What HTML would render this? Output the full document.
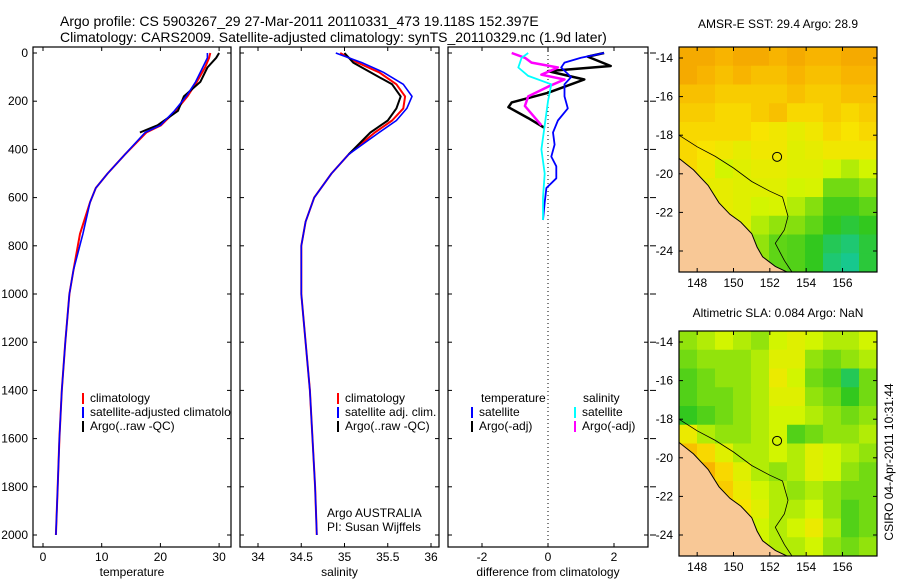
<!DOCTYPE html>
<html><head><meta charset="utf-8"><style>
body{margin:0;background:#fff;}
svg{display:block;font-family:"Liberation Sans",sans-serif;}
</style></head><body>
<svg id="fig" width="900" height="580" viewBox="0 0 900 580">
<text x="60" y="26" font-size="14">Argo profile: CS 5903267_29 27-Mar-2011 20110331_473 19.118S 152.397E</text>
<text x="60" y="42" font-size="14">Climatology: CARS2009. Satellite-adjusted climatology: synTS_20110329.nc (1.9d later)</text>
<text x="778" y="28" font-size="12" text-anchor="middle">AMSR-E SST: 29.4 Argo: 28.9</text>
<text x="778" y="317" font-size="12" text-anchor="middle">Altimetric SLA: 0.084 Argo: NaN</text>
<text transform="translate(893,462) rotate(-90)" font-size="12" text-anchor="middle">CSIRO 04-Apr-2011 10:31:44</text>
</svg>
<script>
// ---- data ----
const pressureTicks=[0,200,400,600,800,1000,1200,1400,1600,1800,2000];
const tempTicks=[0,10,20,30];
const salTicks=[34,34.5,35,35.5,36];
const salTickLabels=["34","34.5","35","35.5","36"];
const diffTicks=[-2,0,2];
const tempClimT=[28.5,28.3,27.6,26.2,24.6,22.6,20.1,17.6,14,11,9,8,6.3,5.2,4.5,3.8,3.2,2.8,2.5,2.2];
const tempClimP=[0,20,60,120,180,240,300,330,420,500,560,620,750,900,1000,1200,1400,1600,1800,2000];
const tempSatT=[28,28,27.2,26,24.4,22.4,20,17.4,14,11,9,8,6.8,5.2,4.5,3.8,3.2,2.8,2.5,2.2];
const tempArgoT=[30,29.5,28,26.8,24,23,19.5,16.5];
const tempArgoP=[0,20,60,120,180,240,300,330];
const salP=[0,40,80,130,180,230,280,330,420,500,600,700,800,1000,1200,1400,1600,1800,2000];
const salClim=[34.95,35.15,35.4,35.6,35.7,35.68,35.55,35.35,35.05,34.85,34.65,34.55,34.5,34.5,34.55,34.6,34.63,34.66,34.68];
const salSat=[34.9,35.2,35.45,35.68,35.78,35.72,35.6,35.4,35.05,34.85,34.65,34.55,34.5,34.5,34.55,34.6,34.63,34.66,34.68];
const salArgo=[35.0,35.1,35.3,35.55,35.65,35.6,35.5,35.3,35.05];
const diffTempSatX=[1.7,1.0,0.5,0.4,0.7,0.5,0.5,0.6,0.3,0.15,0.2,0.1,0.25,0.25,-0.05,-0.1,-0.15];
const diffTempSatP=[0,20,40,60,100,130,180,230,280,330,380,430,470,520,560,620,693];
const diffTempArgoX=[1.7,1.2,1.9,0.0,1.1,0.7,0.0,-1.1,-1.2,-0.6,-0.1];
const diffTempArgoP=[0,15,54,75,110,130,165,205,225,270,311];
const diffSalSatX=[-0.6,-0.8,-0.9,-0.6,0.1,0.0,-0.1,-0.2,-0.1,-0.15,-0.15];
const diffSalSatP=[0,20,60,95,130,200,300,400,500,600,693];
const diffSalArgoX=[-1.1,-0.7,-0.5,0.3,-0.2,0.5,0.0,-0.6,-0.7,-0.2];
const diffSalArgoP=[0,20,40,60,90,110,140,180,220,300];
const latTicks=[-14,-16,-18,-20,-22,-24];
const lonTicks=[148,150,152,154,156];
const sstGrid=[
[.9,.9,.85,.9,.9,.85,.9,.85,.85,.9,.9],
[.9,.85,.8,.85,.8,.8,.85,.8,.8,.85,.85],
[.8,.8,.75,.75,.75,.75,.8,.75,.75,.8,.8],
[.75,.75,.7,.7,.75,.8,.7,.7,.75,.7,.75],
[.7,.7,.7,.7,.65,.62,.58,.62,.7,.65,.7],
[.7,.65,.62,.58,.62,.62,.55,.58,.62,.62,.62],
[.7,.62,.5,.55,.58,.58,.55,.55,.5,.45,.5],
[.62,.58,.58,.55,.55,.55,.5,.52,.35,.35,.4],
[.62,.62,.58,.55,.5,.52,.45,.38,.28,.28,.32],
[.62,.62,.58,.55,.45,.4,.38,.32,.25,.2,.25],
[.62,.62,.58,.55,.4,.32,.3,.25,.15,.1,.2],
[.62,.62,.58,.5,.4,.32,.3,.25,.1,.05,.2]];
const slaGrid=[
[.4,.45,.5,.45,.4,.5,.55,.5,.45,.45,.5],
[.35,.4,.4,.4,.45,.55,.55,.4,.35,.4,.45],
[.3,.35,.4,.4,.45,.6,.5,.35,.3,.15,.35],
[.3,.35,.35,.4,.45,.55,.55,.4,.35,.25,.35],
[.25,.3,.35,.4,.45,.5,.5,.45,.4,.35,.4],
[.6,.45,.4,.4,.45,.5,.3,.35,.4,.4,.45],
[.8,.7,.55,.45,.45,.5,.45,.55,.5,.45,.4],
[.8,.85,.7,.55,.45,.4,.45,.55,.5,.4,.35],
[.8,.85,.75,.6,.5,.45,.4,.45,.4,.35,.35],
[.75,.8,.7,.65,.55,.45,.45,.5,.4,.3,.35],
[.7,.7,.65,.55,.5,.45,.5,.6,.45,.3,.35],
[.7,.65,.6,.55,.5,.45,.45,.5,.4,.35,.4]];
const coastLon=[147,147.8,148.6,149.2,149.8,150.4,151.0,151.3,151.6,152.3,153.2,147];
const coastLat=[-19.2,-19.8,-20.6,-21.5,-22.1,-22.5,-23.1,-23.8,-24.3,-24.8,-25.2,-25.2];
const shelfLon=[147,148,149,150,151,152,152.7,153,152.8,152.3,152.8,153.3];
const shelfLat=[-18,-18.6,-19.1,-19.7,-20.4,-20.9,-21.2,-22.2,-22.9,-23.6,-24.5,-25.2];

// ---- helpers ----
const NS="http://www.w3.org/2000/svg";
const svg=document.getElementById('fig');
function mk(tag,attrs,parent){const e=document.createElementNS(NS,tag);for(const k in attrs)e.setAttribute(k,attrs[k]);(parent||svg).appendChild(e);return e;}
const yP=p=>53+p*0.241;
const panels=[
 {x0:33,x1:231,sx:v=>43+v*5.87,ticks:tempTicks,labels:tempTicks.map(String),xl:"temperature",name:"temperature-panel"},
 {x0:240,x1:439,sx:v=>258+(v-34)*86.5,ticks:salTicks,labels:salTickLabels,xl:"salinity",name:"salinity-panel"},
 {x0:448,x1:648,sx:v=>548+v*33,ticks:diffTicks,labels:diffTicks.map(String),xl:"difference from climatology",name:"difference-panel"}];
const yTop=47,yBot=547;
panels.forEach((pn,i)=>{
 const g=mk('g',{});
 
 
 const fr=mk('rect',{x:pn.x0,y:yTop,width:pn.x1-pn.x0,height:yBot-yTop,fill:'#fff',stroke:'#000','stroke-width':1.2},g);
 
 
 pressureTicks.forEach(p=>{
  const y=yP(p);
  mk('line',{x1:pn.x0,x2:pn.x0+4,y1:y,y2:y,stroke:'#000'},g);
  mk('line',{x1:pn.x1,x2:pn.x1-4,y1:y,y2:y,stroke:'#000'},g);
  if(i===2) mk('line',{x1:pn.x1+2,x2:pn.x1+8,y1:y,y2:y,stroke:'#000'},g);
  if(i===0){const t=mk('text',{x:28,y:y+4,'font-size':12,'text-anchor':'end'},g);t.textContent=p;
   }
 });
 pn.ticks.forEach((v,j)=>{
  const x=pn.sx(v);
  mk('line',{x1:x,x2:x,y1:yTop,y2:yTop+4,stroke:'#000'},g);
  mk('line',{x1:x,x2:x,y1:yBot,y2:yBot-4,stroke:'#000'},g);
  const t=mk('text',{x:x,y:561,'font-size':12,'text-anchor':'middle'},g);t.textContent=pn.labels[j];
  
 });
 const xl=mk('text',{x:(pn.x0+pn.x1)/2,y:576,'font-size':12,'text-anchor':'middle'},g);xl.textContent=pn.xl;
 
 pn.g=g;
});
function line(pn,xs,ps,color,w,name){
 const pts=xs.map((v,k)=>pn.sx(v).toFixed(1)+','+yP(ps[k]).toFixed(1)).join(' ');
 const e=mk('polyline',{points:pts,fill:'none',stroke:color,'stroke-width':w,'stroke-linejoin':'round'},pn.g);
 
 
}
const [P1,P2,P3]=panels;
line(P1,tempClimT,tempClimP,'#ff0000',2,'temperature-climatology-line');
line(P1,tempArgoT,tempArgoP,'#000',2,'temperature-argo-line');
line(P1,tempSatT,tempClimP,'#0000ff',1.6,'temperature-satellite-line');
line(P2,salClim,salP,'#ff0000',2,'salinity-climatology-line');
line(P2,salArgo,salP.slice(0,salArgo.length),'#000',2,'salinity-argo-line');
line(P2,salSat,salP,'#0000ff',1.6,'salinity-satellite-line');
const zl=mk('line',{x1:P3.sx(0),x2:P3.sx(0),y1:yTop,y2:yBot,stroke:'#000','stroke-dasharray':'1,3'},P3.g);


line(P3,diffTempArgoX,diffTempArgoP,'#000',2.5,'diff-temperature-argo-line');
line(P3,diffSalArgoX,diffSalArgoP,'#ff00ff',2.5,'diff-salinity-argo-line');
line(P3,diffTempSatX,diffTempSatP,'#0000ff',1.8,'diff-temperature-satellite-line');
line(P3,diffSalSatX,diffSalSatP,'#00ffff',1.8,'diff-salinity-satellite-line');
function leg(g,x,y,color,label,name){
 if(color){const l=mk('line',{x1:x,x2:x,y1:y-9,y2:y+2,stroke:color,'stroke-width':2},g);
  }
 const t=mk('text',{x:x+(color?7:0),y:y,'font-size':12},g);t.textContent=label;
 
}
const cp=mk('clipPath',{id:'c1'});mk('rect',{x:33,y:47,width:198,height:500},cp);
const lg1=mk('g',{'clip-path':'url(#c1)'},P1.g);

leg(lg1,83,402,'#ff0000','climatology','legend-entry');
leg(lg1,83,416,'#0000ff','satellite-adjusted climatology','legend-entry');
leg(lg1,83,430,'#000','Argo(..raw -QC)','legend-entry');
leg(P2.g,338,402,'#ff0000','climatology','legend-entry');
leg(P2.g,338,416,'#0000ff','satellite adj. clim.','legend-entry');
leg(P2.g,338,430,'#000','Argo(..raw -QC)','legend-entry');
leg(P2.g,327,517,null,'Argo AUSTRALIA','float-owner-label');
leg(P2.g,327,531,null,'PI: Susan Wijffels','pi-label');
leg(P3.g,481,402,null,'temperature','legend-header');
leg(P3.g,583,402,null,'salinity','legend-header');
leg(P3.g,472,416,'#0000ff','satellite','legend-entry');
leg(P3.g,472,430,'#000','Argo(-adj)','legend-entry');
leg(P3.g,575,416,'#00ffff','satellite','legend-entry');
leg(P3.g,575,430,'#ff00ff','Argo(-adj)','legend-entry');

// ---- maps ----
const stops=[[0,[16,200,170]],[0.25,[50,200,30]],[0.5,[210,245,0]],[0.65,[248,228,0]],[0.85,[248,180,0]],[1,[240,150,0]]];
function cmap(v){for(let k=1;k<stops.length;k++){if(v<=stops[k][0]){const a=stops[k-1],b=stops[k],t=(v-a[0])/(b[0]-a[0]);
 return 'rgb('+a[1].map((c,j)=>Math.round(c+(b[1][j]-c)*t)).join(',')+')';}}return 'rgb(240,150,0)';}
function drawMap(x0,y0,grid,name){
 const W=198,H=225;
 const g=mk('g',{});
 
 
 const lon=v=>x0+(v-147)*(W/10.9);
 const latY=v=>y0+11+(-14-v)*19.3;
 const cid='mc'+name;const c=mk('clipPath',{id:cid});mk('rect',{x:x0,y:y0,width:W,height:H},c);
 const gg=mk('g',{'clip-path':'url(#'+cid+')'},g);
 const rows=grid.length,cols=grid[0].length,cw=W/cols,ch=H/rows;
 grid.forEach((r,ri)=>r.forEach((v,ci)=>{
  const cell=mk('rect',{x:x0+ci*cw,y:y0+ri*ch,width:cw+0.6,height:ch+0.6,fill:cmap(v)},gg);
  
  
 }));
 const land=mk('polygon',{points:coastLon.map((v,k)=>lon(v).toFixed(1)+','+latY(coastLat[k]).toFixed(1)).join(' '),fill:'#f8c896',stroke:'#000','stroke-width':1},gg);
 
 const sh=mk('polyline',{points:shelfLon.map((v,k)=>lon(v).toFixed(1)+','+latY(shelfLat[k]).toFixed(1)).join(' '),fill:'none',stroke:'#000','stroke-width':0.8},gg);
 
 const pos=mk('circle',{cx:lon(152.4),cy:latY(-19.12),r:4.5,fill:'none',stroke:'#000'},gg);
 
 const fr=mk('rect',{x:x0,y:y0,width:W,height:H,fill:'none',stroke:'#000','stroke-width':1.2},g);
 
 latTicks.forEach(v=>{const y=latY(v);
  mk('line',{x1:x0,x2:x0+4,y1:y,y2:y,stroke:'#000'},g);mk('line',{x1:x0+W,x2:x0+W-4,y1:y,y2:y,stroke:'#000'},g);
  const t=mk('text',{x:x0-6,y:y+4,'font-size':12,'text-anchor':'end'},g);t.textContent=v;
  });
 lonTicks.forEach(v=>{const x=lon(v);
  mk('line',{x1:x,x2:x,y1:y0,y2:y0+4,stroke:'#000'},g);mk('line',{x1:x,x2:x,y1:y0+H,y2:y0+H-4,stroke:'#000'},g);
  const t=mk('text',{x:x,y:y0+H+15,'font-size':12,'text-anchor':'middle'},g);t.textContent=v;
  });
}
drawMap(679,47,sstGrid,'sst-map');
drawMap(679,331,slaGrid,'sla-map');
</script>
</body></html>
